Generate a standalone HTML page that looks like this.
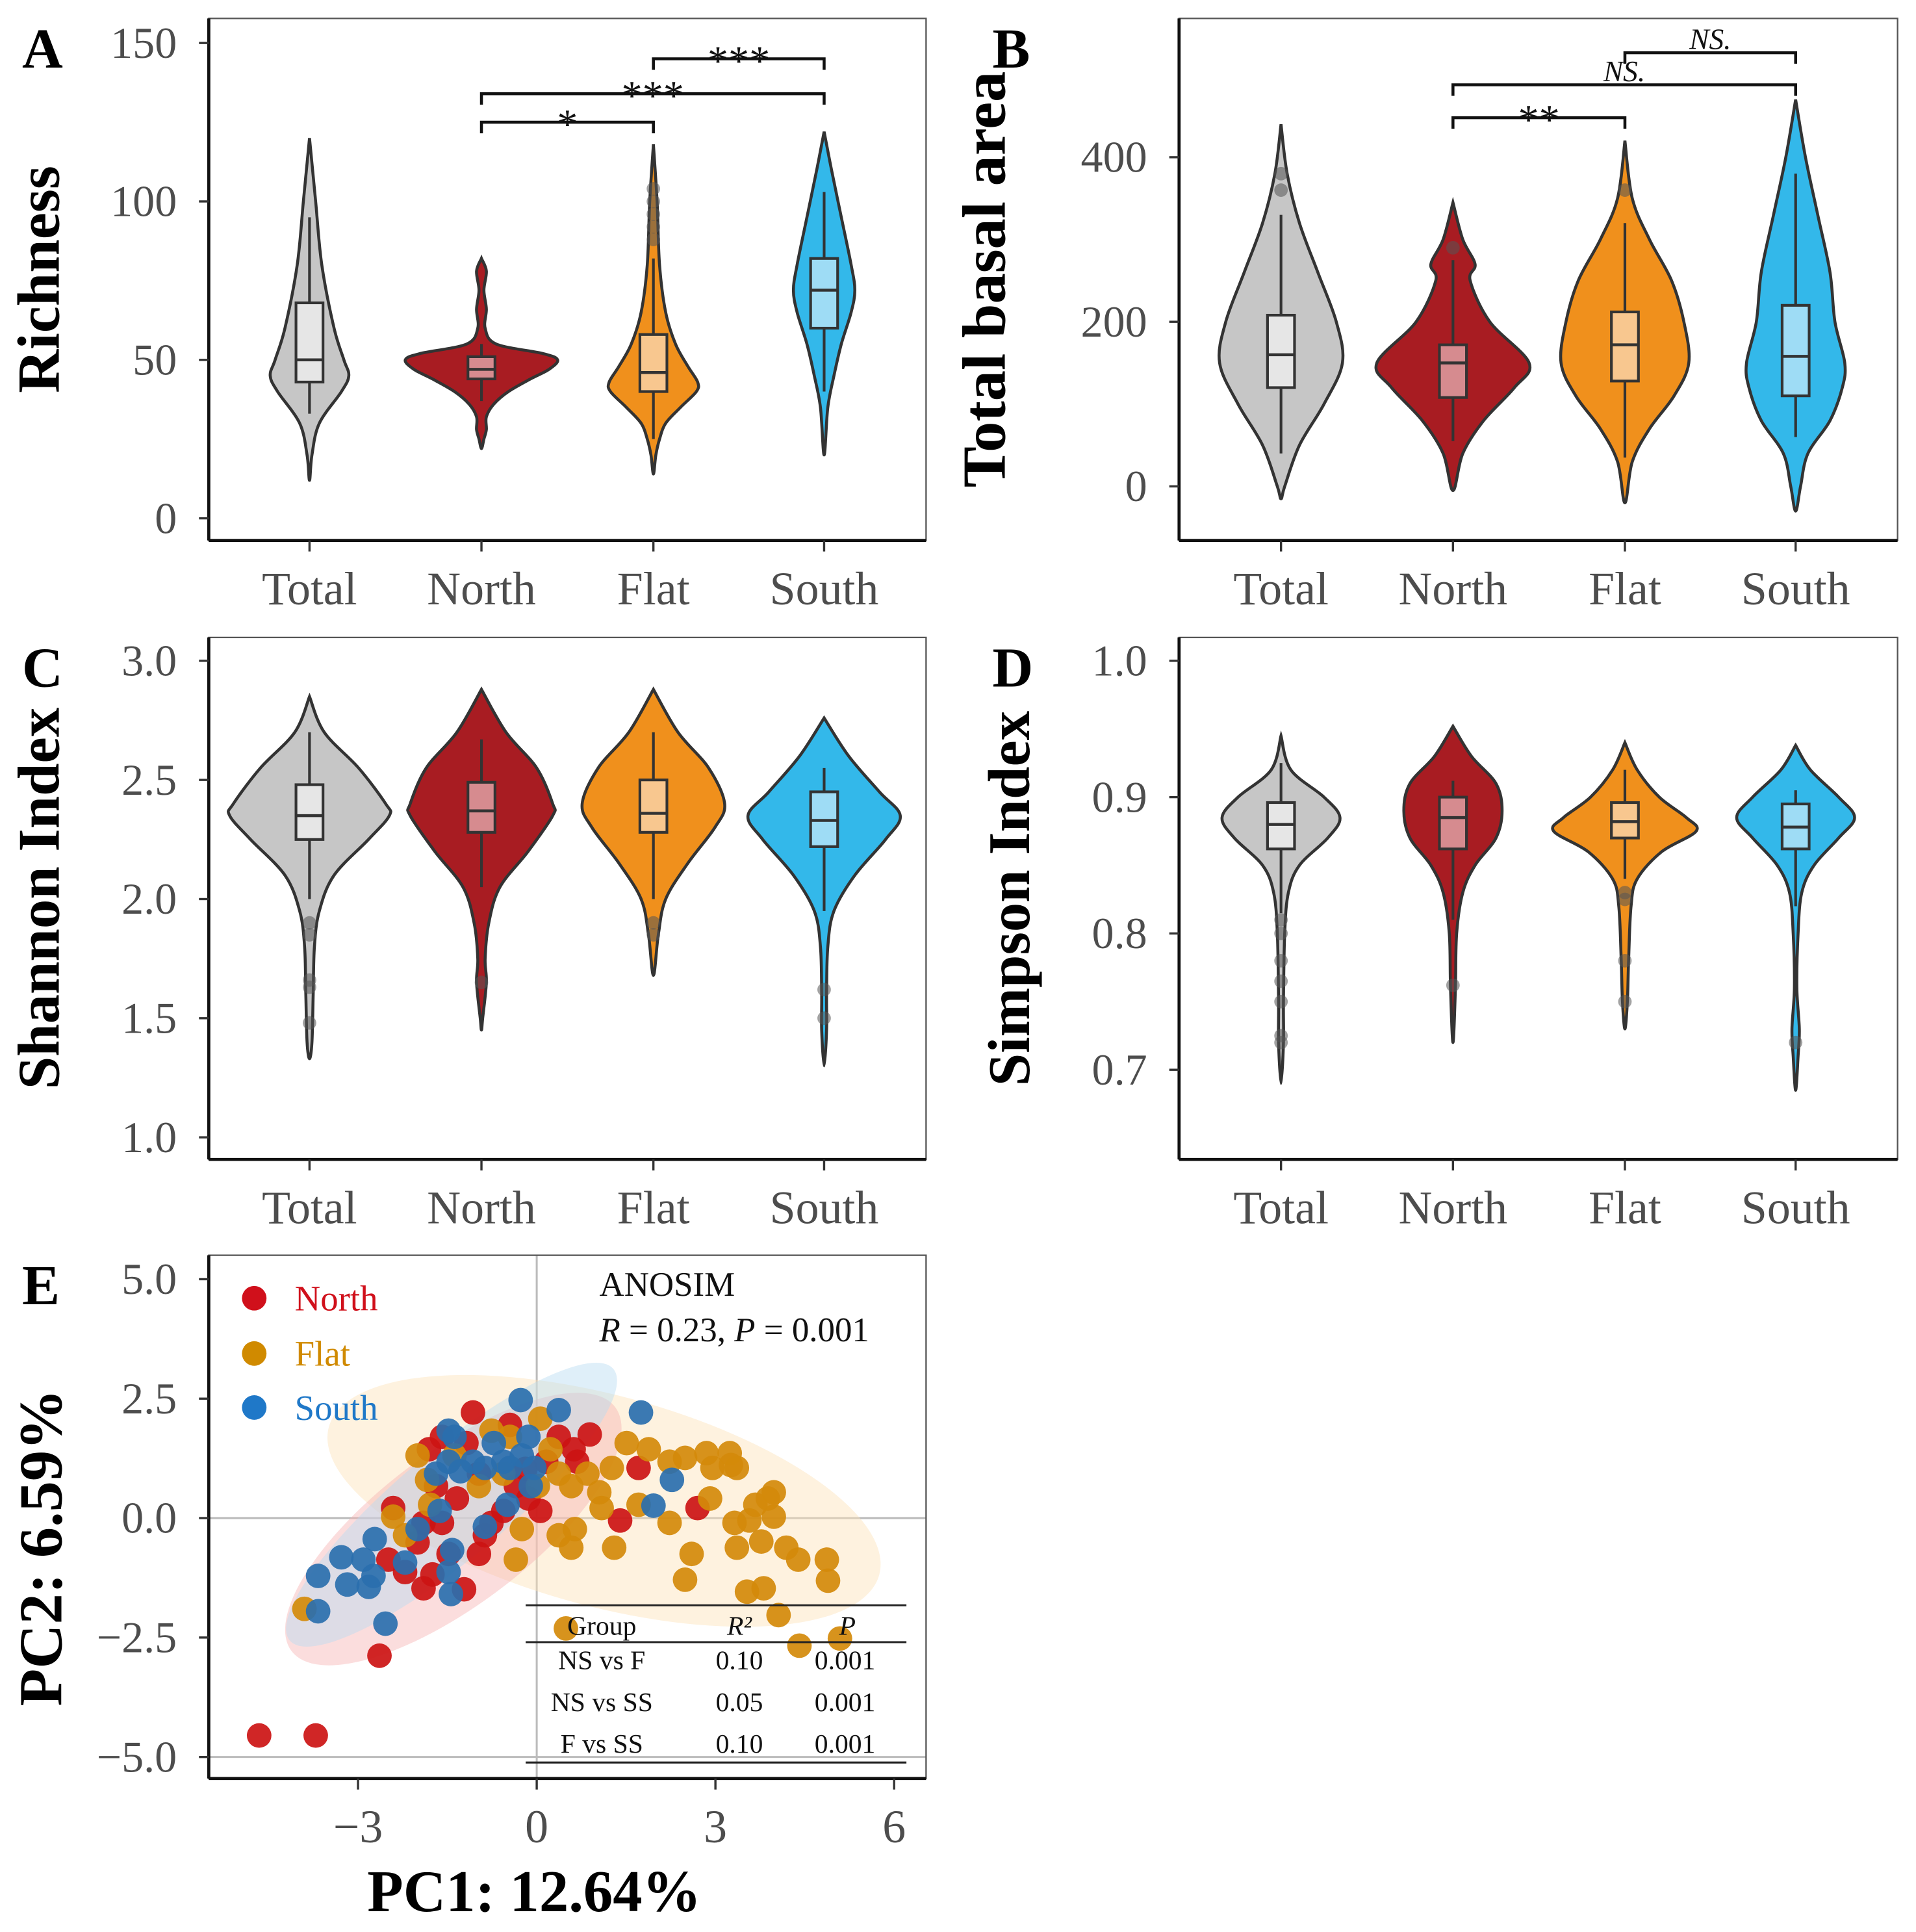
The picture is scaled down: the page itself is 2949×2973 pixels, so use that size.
<!DOCTYPE html>
<html><head><meta charset="utf-8"><style>
html,body{margin:0;padding:0;background:#fff}
svg{display:block}
text{font-family:"Liberation Serif",serif}
</style></head><body>
<svg id="fig" width="2949" height="2973" viewBox="0 0 1560 1573" preserveAspectRatio="none" xmlns="http://www.w3.org/2000/svg"></svg>
<script>
// ---------- Violin data ----------
const groups = ["Total","North","Flat","South"];

const richY = [[120,100,80,60,50,45,40,30,20,12],[82,78,72,66,60,55,52,50,47,44,40,36,32,28,25,22],[118,100,80,65,55,48,43,40,35,30,25,20,14],[122,110,95,80,72,65,55,45,35,20]];
const richD = [[0,5,10,20,28,32,26,8,2,0],[0,4,2,4,3,12,50,62,55,40,22,10,4,4,2,0],[0,3,5,10,18,28,36,35,22,10,5,2,0],[0,6,14,22,25,22,14,8,3,0]];
const richBox = [[33,43,50,68,95],[37,44,47,51,55],[25,40,46,58,82],[40,60,72,82,103]];
const richOut = [[],[],[88,92,96,100,104],[]];

const basY = [[440,380,320,260,200,150,100,50,0,-15],[345,300,270,250,200,150,120,80,40,-5],[420,350,300,250,200,150,110,70,30,-20],[470,400,330,260,200,150,120,80,40,0,-30]];
const basD = [[0,5,15,30,45,50,35,15,3,0],[0,8,18,14,30,62,50,25,8,0],[0,6,20,38,48,52,40,20,6,0],[0,8,18,28,32,40,38,28,10,4,0]];
const basBox = [[40,120,160,208,330],[55,108,150,172,275],[35,128,172,212,320],[60,110,158,220,380]];
const basOut = [[360,380],[290],[360],[]];

const shaY = [[2.85,2.7,2.55,2.4,2.35,2.25,2.1,1.95,1.8,1.6,1.4,1.33],[2.88,2.7,2.55,2.4,2.35,2.2,2.05,1.9,1.75,1.65,1.5,1.45],[2.88,2.7,2.55,2.4,2.3,2.15,2.0,1.85,1.68],[2.76,2.6,2.45,2.35,2.25,2.1,1.95,1.8,1.6,1.45,1.3]];
const shaD = [[0,12,40,62,65,48,20,8,4,3,2,0],[0,20,45,58,58,38,15,6,3,4,1,0],[0,20,45,58,50,28,10,4,0],[0,20,45,62,50,25,8,3,2,2,0]];
const shaBox = [[2.0,2.25,2.35,2.48,2.7],[2.05,2.28,2.37,2.49,2.67],[2.0,2.28,2.36,2.5,2.7],[1.95,2.22,2.33,2.45,2.55]];
const shaOut = [[1.48,1.63,1.66,1.85,1.9],[1.65],[1.85,1.9],[1.5,1.62]];

const simY = [[0.945,0.92,0.9,0.885,0.87,0.85,0.83,0.8,0.75,0.72,0.69],[0.952,0.93,0.91,0.89,0.87,0.85,0.83,0.8,0.76,0.72],[0.94,0.92,0.9,0.885,0.875,0.86,0.84,0.82,0.78,0.75,0.73],[0.938,0.92,0.9,0.885,0.87,0.85,0.83,0.8,0.76,0.73,0.71,0.685]];
const simD = [[0,8,35,48,38,15,6,3,2,2,0],[0,15,35,40,35,18,8,3,2,0],[0,10,28,50,58,30,10,5,3,2,0],[0,12,35,48,35,15,5,2,1,3,2,0]];
const simBox = [[0.815,0.862,0.88,0.896,0.925],[0.81,0.862,0.885,0.9,0.912],[0.84,0.87,0.882,0.896,0.92],[0.82,0.862,0.878,0.895,0.905]];
const simOut = [[0.81,0.8,0.78,0.765,0.75,0.725,0.72],[0.762],[0.83,0.825,0.78,0.75],[0.72]];

const richTicks = [0,50,100,150];
const basTicks = [0,200,400];
const shaTicks = [1.0,1.5,2.0,2.5,3.0];
const simTicks = [0.7,0.8,0.9,1.0];

const richSig = [["North","Flat",125,"*"],["North","South",134,"***"],["Flat","South",145,"***"]];
const basSig = [["North","Flat",448,"**"],["North","South",488,"NS."],["Flat","South",527,"NS."]];

// ---------- PCA data ----------
const northX = [-4.66,-3.71,-2.64,-1.22,-1.90,-1.75,-2.41,-2.49,-2.00,-1.59,-1.34,-1.81,-1.59,-1.18,-0.97,-0.87,-0.56,-0.35,-0.19,0.06,0.16,0.37,0.62,0.89,0.68,1.40,1.71,2.70,-1.48,-0.97,-0.76,-1.69,-1.07,-0.45,-0.14,-2.21,-1.90];
const northY = [-4.55,-4.55,-2.88,-1.49,-1.47,-1.18,0.21,-0.87,-0.51,-0.10,0.41,1.44,1.70,1.57,0.93,-0.36,0.15,0.67,1.03,0.15,1.18,1.70,1.44,1.75,1.18,-0.05,1.05,0.21,-0.75,-0.75,-0.10,0.67,2.21,1.95,0.41,-1.13,-0.10];
const flatX = [-3.90,0.49,5.09,4.41,4.06,3.53,3.81,2.49,4.89,4.87,4.39,4.19,3.77,3.98,3.57,3.36,3.88,3.98,3.67,3.32,2.95,3.36,2.91,3.24,3.26,2.85,2.49,2.23,1.88,1.51,1.26,1.05,0.85,0.58,0.37,0.58,0.64,1.09,1.30,2.23,2.60,1.71,-0.35,-0.25,-0.56,-0.76,-0.45,0.06,0.23,0.37,-2.00,-2.41,-2.21,-1.79,-1.84,-1.38,-0.97,0.02];
const flatY = [-1.90,-2.31,-2.52,-2.67,-2.03,-1.54,-1.47,-1.29,-1.31,-0.87,-0.87,-0.62,-0.49,0.03,-0.05,-0.62,0.41,0.54,0.28,-0.10,1.05,1.05,0.41,1.36,1.11,1.36,1.26,1.18,1.44,1.57,1.05,0.54,0.93,0.67,-0.36,-0.62,-0.23,0.21,-0.62,-0.10,-0.75,0.28,-0.87,-0.23,0.93,1.83,1.70,2.08,1.44,0.93,1.31,0.03,-0.36,0.28,0.80,1.31,0.67,0.67];
const southX = [-3.67,-3.67,-3.28,-3.18,-2.91,-2.82,-2.74,-2.54,-2.72,-2.21,-2.00,-1.63,-1.48,-1.44,-1.42,-0.87,-1.69,-1.48,-1.28,-1.07,-0.87,-0.72,-0.56,-0.45,-0.25,-0.14,-0.04,-0.10,-1.48,-1.38,-0.27,0.37,1.75,2.27,1.96,-0.49];
const southY = [-1.95,-1.21,-0.82,-1.39,-0.87,-1.44,-1.21,-2.21,-0.44,-0.93,-0.23,0.15,-1.13,-1.59,-0.67,-0.18,0.93,1.18,0.98,1.18,1.05,1.57,1.18,1.05,1.31,1.70,1.05,0.67,1.83,1.70,2.47,2.26,2.21,0.80,0.26,0.28];
const ellCenterX = [-1.4,1.13,-1.43];
const ellCenterY = [-0.23,0.36,0.28];
const pcaXTicks = [-3,0,3,6];
const pcaYTicks = [-5.0,-2.5,0.0,2.5,5.0];

// ---------- drawing ----------
const NS = "http://www.w3.org/2000/svg";
const svg = document.getElementById('fig');
function mk(tag, attrs, parent){
  const e = document.createElementNS(NS, tag);
  for (const k in attrs) e.setAttribute(k, attrs[k]);
  (parent||svg).appendChild(e);
  return e;
}
const fills = ["#c6c6c6","#a81c22","#f0901c","#33b8ea"];
const boxFills = ["#e6e6e6","#d68b8f","#f8c78f","#9edcf5"];
const axisGrey = "#4d4d4d";

function smoothPath(pts){
  let d = "M"+pts[0][0]+","+pts[0][1];
  for (let i=0;i<pts.length-1;i++){
    const p0=pts[Math.max(0,i-1)], p1=pts[i], p2=pts[i+1], p3=pts[Math.min(pts.length-1,i+2)];
    const c1x=p1[0]+(p2[0]-p0[0])/6, c1y=p1[1]+(p2[1]-p0[1])/6;
    const c2x=p2[0]-(p3[0]-p1[0])/6, c2y=p2[1]-(p3[1]-p1[1])/6;
    d += " C"+c1x+","+c1y+" "+c2x+","+c2y+" "+p2[0]+","+p2[1];
  }
  return d;
}

function violinPanel(cfg){
  const {name,x0,x1,y0,y1,yFn,ticks,fmt,ys,ds,box,outs,centers,letter,ylabel,ylabelX,ylabelSize,sig} = cfg;
  const g = mk('g',{});
  
  
  const frame = mk('rect',{x:x0,y:y0,width:x1-x0,height:y1-y0,fill:'none',stroke:'#555','stroke-width':1.2},g);
  
  
  mk('line',{x1:x0,y1:y0,x2:x0,y2:y1,stroke:'#111','stroke-width':2.5},g);
  mk('line',{x1:x0,y1:y1,x2:x1,y2:y1,stroke:'#111','stroke-width':2.5},g);
  ticks.forEach(t=>{
    const y=yFn(t);
    mk('line',{x1:x0-8,y1:y,x2:x0,y2:y,stroke:'#333','stroke-width':1.8},g);
    const tx = mk('text',{x:x0-26,y:y+12,'text-anchor':'end','font-size':36,fill:axisGrey},g);
    tx.textContent = fmt(t);
    
    
  });
  groups.forEach((gr,i)=>{
    const cx = centers[i];
    mk('line',{x1:cx,y1:y1,x2:cx,y2:y1+9,stroke:'#333','stroke-width':1.8},g);
    const tx = mk('text',{x:cx,y:y1+52,'text-anchor':'middle','font-size':38,fill:axisGrey},g);
    tx.textContent = gr;
    
    
    const right = ys[i].map((v,k)=>[cx+ds[i][k], yFn(v)]);
    const left = ys[i].map((v,k)=>[cx-ds[i][k], yFn(v)]).reverse();
    const pts = right.concat(left.slice(1));
    const vp = mk('path',{d:smoothPath(pts)+"Z",fill:fills[i],stroke:'#333','stroke-width':2.4},g);
    
    
    const b = box[i];
    mk('line',{x1:cx,y1:yFn(b[0]),x2:cx,y2:yFn(b[4]),stroke:'#333','stroke-width':2.2},g);
    const br = mk('rect',{x:cx-11,y:yFn(b[3]),width:22,height:yFn(b[1])-yFn(b[3]),fill:boxFills[i],stroke:'#333','stroke-width':2.2},g);
    
    
    mk('line',{x1:cx-11,y1:yFn(b[2]),x2:cx+11,y2:yFn(b[2]),stroke:'#333','stroke-width':2.4},g);
    outs[i].forEach(o=>{
      const c = mk('circle',{cx:cx,cy:yFn(o),r:5.5,fill:'#555','fill-opacity':0.55},g);
      
      
    });
  });
  if (sig){
    sig.forEach(s=>{
      const a=centers[groups.indexOf(s[0])], b=centers[groups.indexOf(s[1])], y=yFn(s[2]);
      const p = mk('path',{d:`M${a},${y+9}V${y}H${b}V${y+9}`,fill:'none',stroke:'#111','stroke-width':2.4},g);
      
      
      const italic = s[3]==="NS.";
      const t = mk('text',{x:(a+b)/2,y:italic? y-3 : y+13,'text-anchor':'middle','font-size':italic?24:34,fill:'#111','font-style':italic?'italic':'normal'},g);
      t.textContent = s[3];
      
      
    });
  }
  const L = mk('text',{x:x0-152,y:y0+40,'font-size':46,'font-weight':'bold',fill:'#000'},g);
  L.textContent = letter;
  
  
  const yc = (y0+y1)/2;
  const yl = mk('text',{x:ylabelX,y:yc,'text-anchor':'middle','font-size':ylabelSize,'font-weight':'bold',fill:'#000',transform:`rotate(-90 ${ylabelX} ${yc})`},g);
  yl.textContent = ylabel;
  
  
}
const cL = [252,392,532,671], cR = [1043,1183,1323,1462];
violinPanel({name:'richness',x0:170,x1:754,y0:15,y1:440,yFn:v=>422-v*387/150,ticks:richTicks,fmt:t=>String(t),ys:richY,ds:richD,box:richBox,outs:richOut,centers:cL,letter:'A',ylabel:'Richness',ylabelX:48,ylabelSize:49,sig:richSig});
violinPanel({name:'basal-area',x0:960,x1:1545,y0:15,y1:440,yFn:v=>396-v*268/400,ticks:basTicks,fmt:t=>String(t),ys:basY,ds:basD,box:basBox,outs:basOut,centers:cR,letter:'B',ylabel:'Total basal area',ylabelX:818,ylabelSize:50,sig:basSig});
violinPanel({name:'shannon',x0:170,x1:754,y0:519,y1:944,yFn:v=>926-(v-1)*388/2,ticks:shaTicks,fmt:t=>t.toFixed(1),ys:shaY,ds:shaD,box:shaBox,outs:shaOut,centers:cL,letter:'C',ylabel:'Shannon Index',ylabelX:48,ylabelSize:48});
violinPanel({name:'simpson',x0:960,x1:1545,y0:519,y1:944,yFn:v=>871-(v-0.7)*333/0.3,ticks:simTicks,fmt:t=>t.toFixed(1),ys:simY,ds:simD,box:simBox,outs:simOut,centers:cR,letter:'D',ylabel:'Simpson Index',ylabelX:838,ylabelSize:48});

// ---------- PCA panel ----------
(function(){
  const x0=170,x1=754,y0=1022,y1=1448;
  const X = v=>437+v*48.5, Y = v=>1236-v*38.9;
  const g = mk('g',{});
  
  
  const clip = mk('clipPath',{id:'pcaclip'},g);
  mk('rect',{x:x0,y:y0,width:x1-x0,height:y1-y0},clip);
  const inner = mk('g',{'clip-path':'url(#pcaclip)'},g);
  mk('line',{x1:X(0),y1:y0,x2:X(0),y2:y1,stroke:'#bbb','stroke-width':1.6},inner);
  mk('line',{x1:x0,y1:Y(0),x2:x1,y2:Y(0),stroke:'#bbb','stroke-width':1.6},inner);
  mk('line',{x1:x0,y1:Y(-5),x2:x1,y2:Y(-5),stroke:'#bbb','stroke-width':1.6},inner);
  const ellR = [[165,62,-37],[232,86,15],[172,44,-40]];
  const ellFill = ["#f7b4b4","#fde2b8","#b9dcf2"];
  const ellNames = ['north','flat','south'];
  [1,0,2].forEach(i=>{
    const cx=X(ellCenterX[i]), cy=Y(ellCenterY[i]);
    const e = mk('ellipse',{cx:cx,cy:cy,rx:ellR[i][0],ry:ellR[i][1],transform:`rotate(${ellR[i][2]} ${cx} ${cy})`,fill:ellFill[i],'fill-opacity':0.45},inner);
    
    
  });
  const series = [[northX,northY,'#cc1414','north'],[flatX,flatY,'#d48a0a','flat'],[southX,southY,'#2a6fae','south']];
  series.forEach(s=>{
    s[0].forEach((xv,k)=>{
      const c = mk('circle',{cx:X(xv),cy:Y(s[1][k]),r:10,fill:s[2],'fill-opacity':0.92},inner);
      
      
    });
  });
  const fr = mk('rect',{x:x0,y:y0,width:x1-x0,height:y1-y0,fill:'none',stroke:'#555','stroke-width':1.2},g);
  
  
  mk('line',{x1:x0,y1:y0,x2:x0,y2:y1,stroke:'#111','stroke-width':2.5},g);
  mk('line',{x1:x0,y1:y1,x2:x1,y2:y1,stroke:'#111','stroke-width':2.5},g);
  pcaYTicks.forEach(t=>{
    const y=Y(t);
    mk('line',{x1:x0-8,y1:y,x2:x0,y2:y,stroke:'#333','stroke-width':1.8},g);
    const tx = mk('text',{x:x0-26,y:y+12,'text-anchor':'end','font-size':36,fill:axisGrey},g);
    tx.textContent = (t<0?'\u2212':'')+Math.abs(t).toFixed(1);
    
    
  });
  pcaXTicks.forEach(t=>{
    const x=X(t);
    mk('line',{x1:x,y1:y1,x2:x,y2:y1+9,stroke:'#333','stroke-width':1.8},g);
    const tx = mk('text',{x:x,y:y1+52,'text-anchor':'middle','font-size':38,fill:axisGrey},g);
    tx.textContent = (t<0?'\u2212':'')+Math.abs(t);
    
    
  });
  const leg = [['North','#d0101b',1057],['Flat','#d08a00',1102],['South','#1f78c8',1146]];
  leg.forEach(l=>{
    const c = mk('circle',{cx:207,cy:l[2],r:10,fill:l[1]},g);
    
    
    const t = mk('text',{x:240,y:l[2]+10,'font-size':29,fill:l[1]},g);
    t.textContent = l[0];
    
    
  });
  const a1 = mk('text',{x:488,y:1055,'font-size':28,fill:'#111'},g);
  a1.textContent='ANOSIM';
  
  
  const a2 = mk('text',{x:488,y:1092,'font-size':28,fill:'#111'},g);
  a2.innerHTML='<tspan font-style="italic">R</tspan> = 0.23, <tspan font-style="italic">P</tspan> = 0.001';
  
  
  [1307,1337,1435].forEach(y=>mk('line',{x1:428,y1:y,x2:738,y2:y,stroke:'#222','stroke-width':1.6},g));
  const hdr = [['Group',490,'normal'],['R²',602,'italic'],['P',690,'italic']];
  hdr.forEach(h=>{
    const t = mk('text',{x:h[1],y:1331,'text-anchor':'middle','font-size':22,'font-style':h[2],fill:'#111'},g);
    t.textContent = h[0];
    
    
  });
  const rows = [['NS vs F','0.10','0.001',1359],['NS vs SS','0.05','0.001',1393],['F vs SS','0.10','0.001',1427]];
  rows.forEach(r=>{
    [[r[0],490],[r[1],602],[r[2],688]].forEach(c=>{
      const t = mk('text',{x:c[1],y:r[3],'text-anchor':'middle','font-size':22,fill:'#111'},g);
      t.textContent = c[0];
      
      
    });
  });
  const L = mk('text',{x:18,y:1062,'font-size':46,'font-weight':'bold',fill:'#000'},g);
  L.textContent='E';
  
  
  const xt = mk('text',{x:435,y:1556,'text-anchor':'middle','font-size':48,'font-weight':'bold',fill:'#000'},g);
  xt.textContent='PC1: 12.64%';
  
  
  const yt = mk('text',{x:50,y:1260,'text-anchor':'middle','font-size':50,'font-weight':'bold',fill:'#000',transform:'rotate(-90 50 1260)'},g);
  yt.textContent='PC2: 6.59%';
  
  
})();
</script>
</body></html>
